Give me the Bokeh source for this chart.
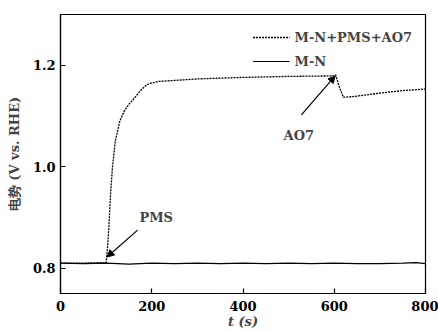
from bokeh.plotting import figure
from bokeh.models import FixedTicker, Legend, LegendItem, Label, Arrow, NormalHead
from bokeh.embed import file_html
from bokeh.resources import INLINE

# data
t_aop = [0, 50, 100, 103, 106, 110, 114, 120, 130, 140, 150, 160, 175, 190, 200, 215, 250, 300, 400, 500, 600, 603, 612, 620, 640, 700, 750, 800]
v_aop = [0.810, 0.810, 0.811, 0.84, 0.88, 0.95, 1.00, 1.05, 1.09, 1.11, 1.123, 1.133, 1.150, 1.162, 1.165, 1.168, 1.170, 1.173, 1.176, 1.178, 1.179, 1.181, 1.155, 1.137, 1.138, 1.145, 1.150, 1.153]
t_mn = [0, 50, 100, 150, 200, 250, 300, 350, 400, 450, 500, 550, 600, 650, 700, 750, 780, 800]
v_mn = [0.810, 0.809, 0.810, 0.808, 0.810, 0.809, 0.810, 0.809, 0.810, 0.809, 0.810, 0.809, 0.810, 0.809, 0.809, 0.810, 0.811, 0.809]
x_ticks = [0, 200, 400, 600, 800]
y_ticks = [0.8, 1.0, 1.2]
legend_labels = ["M-N+PMS+AO7", "M-N"]

SERIF = "DejaVu Serif"
FS = "13px"

p = figure(width=438, height=332, x_range=(0, 800), y_range=(0.75, 1.3),
           output_backend="svg", toolbar_location=None,
           min_border_left=60, min_border_right=13, min_border_top=14, min_border_bottom=39)
p.grid.visible = False
p.outline_line_color = "black"
p.outline_line_width = 1.2
p.background_fill_color = "white"

for ax in (p.xaxis[0], p.yaxis[0]):
    ax.major_tick_in = 5
    ax.major_tick_out = 0
    ax.minor_tick_in = 0
    ax.minor_tick_out = 0
    ax.axis_line_width = 1.2
    ax.major_tick_line_width = 1.2
    ax.major_label_text_font = SERIF
    ax.major_label_text_font_style = "bold"
    ax.major_label_text_font_size = FS
    ax.major_label_text_color = "black"
    ax.axis_label_text_font = SERIF
    ax.axis_label_text_font_style = "bold"
    ax.axis_label_text_font_size = FS

p.xaxis.ticker = FixedTicker(ticks=x_ticks)
p.yaxis.ticker = FixedTicker(ticks=y_ticks)
p.yaxis.major_label_overrides = {0.8: "0.8", 1.0: "1.0", 1.2: "1.2"}
p.xaxis.major_label_standoff = 7
p.yaxis.major_label_standoff = 5
p.yaxis.axis_label = "电势 (V vs. RHE)"
p.yaxis.axis_label_standoff = 8
p.xaxis.axis_label = "t (s)"
p.xaxis.axis_label_standoff = 0
p.xaxis.axis_label_text_font_style = "bold italic"

r_mn = p.line(t_mn, v_mn, line_color="black", line_width=1.2)
r_aop = p.line(t_aop, v_aop, line_color="black", line_width=1.3, line_dash="2 1")

legend = Legend(items=[LegendItem(label=legend_labels[0], renderers=[r_aop]),
                       LegendItem(label=legend_labels[1], renderers=[r_mn])],
                location="top_right", border_line_color=None, background_fill_alpha=0,
                label_text_font=SERIF, label_text_font_style="bold", label_text_font_size=FS,
                glyph_width=37, label_standoff=5, spacing=4, padding=4, margin=13)
p.add_layout(legend)

p.add_layout(Arrow(end=NormalHead(size=7, fill_color="black", line_color="black"),
                   x_start=169, y_start=0.875, x_end=102, y_end=0.822, line_width=1.2))
p.add_layout(Arrow(end=NormalHead(size=7, fill_color="black", line_color="black"),
                   x_start=528, y_start=1.102, x_end=602, y_end=1.179, line_width=1.2))
p.add_layout(Label(x=173, y=0.9, text="PMS", text_font=SERIF, text_font_style="bold",
                   text_font_size=FS, text_baseline="middle"))
p.add_layout(Label(x=489, y=1.061, text="AO7", text_font=SERIF, text_font_style="bold",
                   text_font_size=FS, text_baseline="middle"))

open("out.html", "w").write(file_html(p, INLINE))
